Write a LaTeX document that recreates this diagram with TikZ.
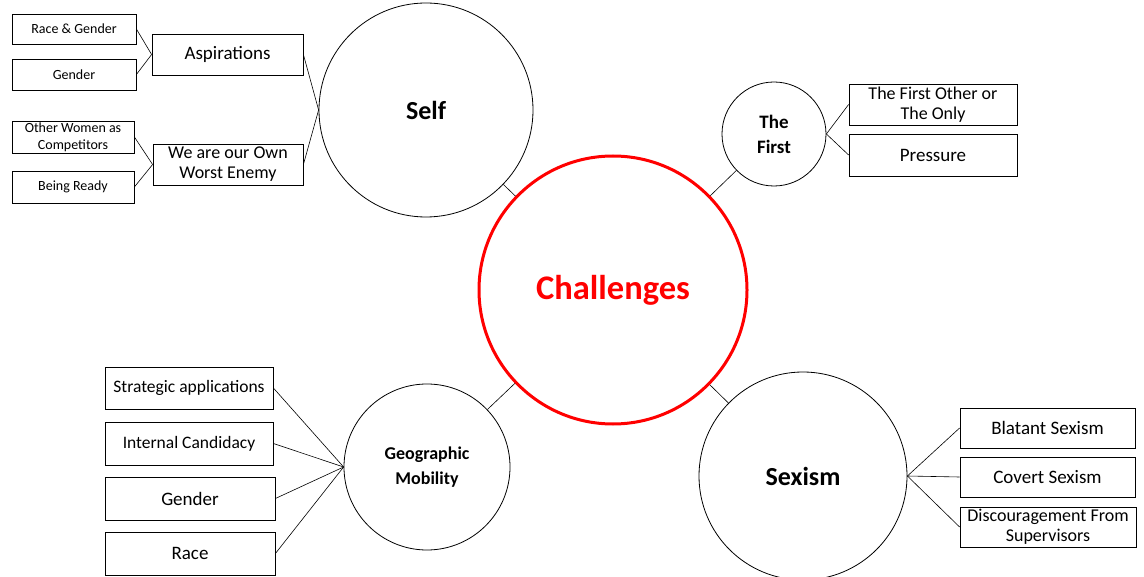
\documentclass[tikz,border=0pt]{standalone}
\usepackage{fontspec}
\setmainfont{Carlito}
\usepackage{tikz}
\definecolor{chred}{RGB}{255,0,0}
\begin{document}
\begin{tikzpicture}[x=1pt,y=-1pt,
	box/.style={draw=black,line width=0.8pt,rectangle,align=center,inner sep=1pt,font=\fontsize{19}{20}\selectfont},
	smallbox/.style={box,font=\fontsize{14}{17}\selectfont},
	bubble/.style={draw=black,line width=0.8pt,circle,align=center,inner sep=0pt,font=\bfseries\fontsize{19}{25}\selectfont},
	link/.style={black,line width=0.6pt}]
	\useasboundingbox (0,0) rectangle (1144,577);
	\node [draw=chred,line width=3pt,circle,minimum size=268pt,text=chred,font=\bfseries\fontsize{34.5}{36}\selectfont] (ch) at (613,290) {Challenges};
	\node [bubble,minimum size=214pt,font=\bfseries\fontsize{26}{28}\selectfont] (self) at (426,110) {Self};
	\node [bubble,minimum size=104pt] (first) at (774,134) {The\\First};
	\node [bubble,minimum size=166pt,font=\bfseries\fontsize{18}{25}\selectfont] (geo) at (427,467) {Geographic\\Mobility};
	\node [bubble,minimum size=208pt,font=\bfseries\fontsize{26}{28}\selectfont] (sex) at (803,476) {Sexism};
	\draw [link] (ch) -- (self);
	\draw [link] (ch) -- (first);
	\draw [link] (ch) -- (geo);
	\draw [link] (ch) -- (sex);
	\node [smallbox,minimum width=124pt,minimum height=30pt] (racegen) at (74,29) {Race \& Gender};
	\node [smallbox,minimum width=124pt,minimum height=31pt] (gen1) at (74,74.5) {Gender};
	\node [box,minimum width=151pt,minimum height=41pt] (asp) at (227.5,54.5) {Aspirations};
	\node [smallbox,minimum width=122pt,minimum height=32pt] (other) at (73,137) {Other Women as\\Competitors};
	\node [smallbox,minimum width=122pt,minimum height=32pt] (ready) at (73,187) {Being Ready};
	\node [box,minimum width=150pt,minimum height=41pt,font=\fontsize{18}{20}\selectfont] (worst) at (228,164.5) {We are our Own\\Worst Enemy};
	\draw [link] (racegen.east) -- (asp.west);
	\draw [link] (gen1.east) -- (asp.west);
	\draw [link] (other.east) -- (worst.west);
	\draw [link] (ready.east) -- (worst.west);
	\draw [link] (asp.east) -- (self.west);
	\draw [link] (worst.east) -- (self.west);
	\node [box,minimum width=168pt,minimum height=41pt,font=\fontsize{18}{20}\selectfont] (only) at (933,104.5) {The First Other or\\The Only};
	\node [box,minimum width=168pt,minimum height=42pt] (press) at (933,155) {Pressure};
	\draw [link] (first.east) -- (only.west);
	\draw [link] (first.east) -- (press.west);
	\node [box,minimum width=168pt,minimum height=42pt,font=\fontsize{17.5}{19}\selectfont] (strat) at (189,388) {Strategic applications};
	\node [box,minimum width=168pt,minimum height=43pt,font=\fontsize{17.5}{19}\selectfont] (intern) at (189,443.5) {Internal Candidacy};
	\node [box,minimum width=170pt,minimum height=43pt] (gen2) at (190,498.5) {Gender};
	\node [box,minimum width=170pt,minimum height=43pt] (race) at (190,553.5) {Race};
	\draw [link] (strat.east) -- (geo.west);
	\draw [link] (intern.east) -- (geo.west);
	\draw [link] (gen2.east) -- (geo.west);
	\draw [link] (race.east) -- (geo.west);
	\node [box,minimum width=175pt,minimum height=40pt] (blat) at (1047.5,428) {Blatant Sexism};
	\node [box,minimum width=175pt,minimum height=40pt] (cov) at (1047.5,477) {Covert Sexism};
	\node [box,minimum width=176pt,minimum height=40pt,font=\fontsize{18}{20}\selectfont] (disc) at (1048,527) {Discouragement From\\Supervisors};
	\draw [link] (sex.east) -- (blat.west);
	\draw [link] (sex.east) -- (cov.west);
	\draw [link] (sex.east) -- (disc.west);
\end{tikzpicture}
\end{document}
